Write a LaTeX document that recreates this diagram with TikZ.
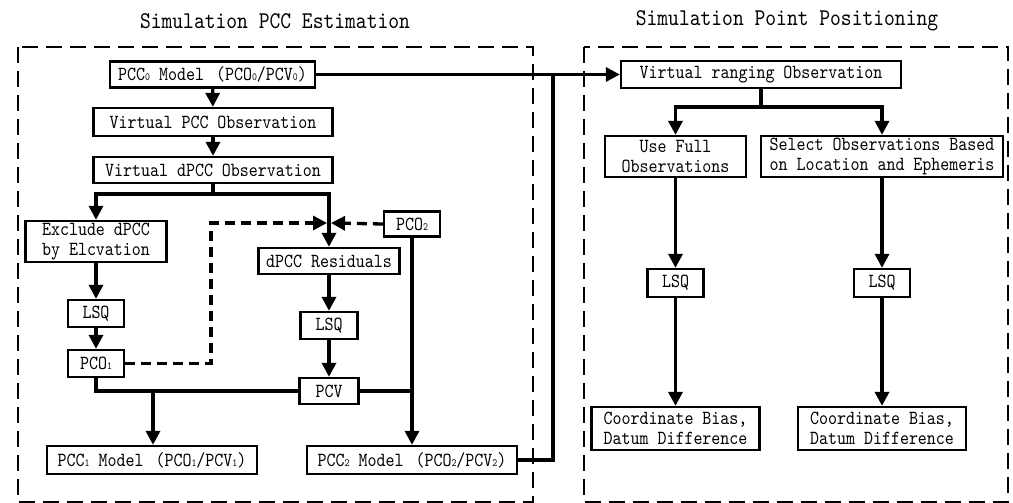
\documentclass[tikz,border=0pt]{standalone}
\usepackage{fontspec}
\usetikzlibrary{arrows.meta}
\newfontfamily\boxfont{lmmono10-regular}[Extension=.otf,FakeStretch=0.857]
\newcommand\lsub[1]{{\fontsize{11}{11}\selectfont #1}}
\begin{document}
\begin{tikzpicture}[x=1pt,y=-1pt,
  box/.style={draw,line width=2.3pt,inner sep=0pt,align=center,
    font={\boxfont\fontsize{20}{20.5}\selectfont}},
  title/.style={font={\boxfont\fontsize{24}{24}\selectfont}},
  frame/.style={draw,line width=2pt,dash pattern=on 16pt off 8pt},
  conn/.style={line width=3.3pt},
  arr/.style={conn,-{Triangle[length=14pt,width=14pt]}},
  darr/.style={conn,dash pattern=on 10pt off 6pt,-{Triangle[length=14pt,width=14pt]}}]
\useasboundingbox (0,0) rectangle (1013,503);
% frames and titles
\draw[frame] (18,47) rectangle (533,502);
\draw[frame] (584,47) rectangle (1008,502);
\node[title] (t1) at (275,21) {Simulation PCC Estimation};
\node[title] (t2) at (787,21) {Simulation Point Positioning};
% left part
\node[box,minimum width=205pt,minimum height=26pt] (pcc0) at (212.5,74.5) {PCC\lsub0 Model\hspace{3pt} (PCO\lsub0/PCV\lsub0)};
\node[box,minimum width=239pt,minimum height=28pt] (vpcc) at (213,122) {Virtual PCC Observation};
\node[box,minimum width=239pt,minimum height=26pt] (vdpcc) at (213,170) {Virtual dPCC Observation};
\node[box,minimum width=141pt,minimum height=41pt] (excl) at (96,241.5) {Exclude dPCC\\by Elcvation};
\node[box,minimum width=56pt,minimum height=27pt] (lsq1) at (96,313.5) {LSQ};
\node[box,minimum width=56pt,minimum height=27pt] (pco1) at (96,363.5) {PCO\lsub1};
\node[box,minimum width=141pt,minimum height=26pt] (dres) at (329,261) {dPCC Residuals};
\node[box,minimum width=57pt,minimum height=27pt] (lsq2) at (329,325.5) {LSQ};
\node[box,minimum width=59pt,minimum height=26pt] (pcv) at (329,391) {PCV};
\node[box,minimum width=56pt,minimum height=25pt] (pco2) at (412,224) {PCO\lsub2};
\node[box,minimum width=210pt,minimum height=28pt] (pcc1) at (152,460) {PCC\lsub1 Model\hspace{3pt} (PCO\lsub1/PCV\lsub1)};
\node[box,minimum width=210pt,minimum height=28pt] (pcc2) at (412,460) {PCC\lsub2 Model\hspace{3pt} (PCO\lsub2/PCV\lsub2)};
% right part
\node[box,minimum width=280pt,minimum height=27pt] (vr) at (761,74.5) {Virtual ranging Observation};
\node[box,minimum width=141pt,minimum height=41pt] (full) at (675.5,156.5) {Use Full\\Observations};
\node[box,minimum width=242pt,minimum height=41pt] (sel) at (882,156.5) {Select Observations Based\\on Location and Ephemeris};
\node[box,minimum width=56pt,minimum height=28pt] (lsq3) at (675.5,283) {LSQ};
\node[box,minimum width=56pt,minimum height=28pt] (lsq4) at (882,283) {LSQ};
\node[box,minimum width=168pt,minimum height=43pt] (cb1) at (675.5,428.5) {Coordinate Bias,\\Datum Difference};
\node[box,minimum width=168pt,minimum height=43pt] (cb2) at (882,428.5) {Coordinate Bias,\\Datum Difference};
% junction coordinates
\coordinate (j1) at (213,194);
\coordinate (j2) at (153,391);
\coordinate (j3) at (553,74.5);
\coordinate (j4) at (761,107);
\coordinate (d1) at (211,223);
\coordinate (ml) at (327,223);
\coordinate (mr) at (331,223);
% left connectors
\draw[arr] (pcc0) -- (vpcc);
\draw[arr] (vpcc) -- (vdpcc);
\draw[conn] (vdpcc.south) -- (j1);
\draw[arr] (j1) -| (excl.north);
\draw[arr] (j1) -| (dres.north);
\draw[arr] (excl) -- (lsq1);
\draw[arr] (lsq1) -- (pco1);
\draw[arr] (dres) -- (lsq2);
\draw[arr] (lsq2) -- (pcv);
\draw[conn] (pco1.south) |- (pcv.west);
\draw[arr] (j2) -- (j2 |- pcc1.north);
\draw[conn] (pcv.east) -- (pcv.east -| pco2.south);
\draw[arr] (pco2) -- (pcc2);
\draw[darr] (pco1.east) -| (d1) -- (ml);
\draw[darr] (pco2.west) -- (mr);
% links between parts
\draw[arr] (pcc0.east) -- (vr.west);
\draw[conn] (pcc2.east) -| (j3);
% right connectors
\draw[conn] (vr.south) -- (j4);
\draw[arr] (j4) -| (full.north);
\draw[arr] (j4) -| (sel.north);
\draw[arr] (full) -- (lsq3);
\draw[arr] (lsq3) -- (cb1);
\draw[arr] (sel) -- (lsq4);
\draw[arr] (lsq4) -- (cb2);
\end{tikzpicture}
\end{document}
